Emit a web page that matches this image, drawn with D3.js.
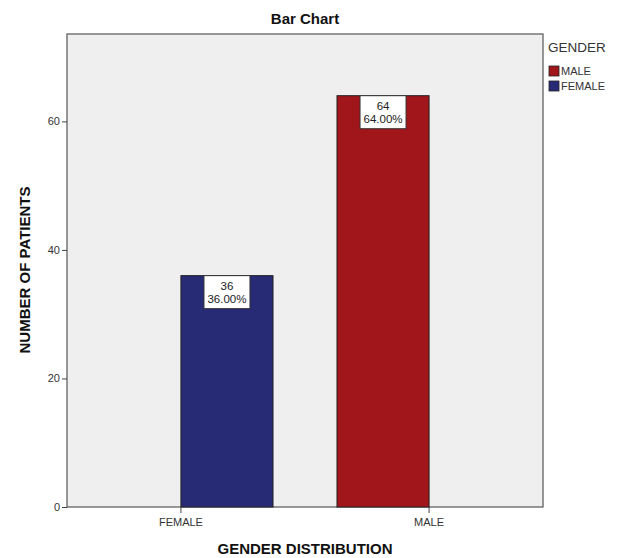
<!DOCTYPE html>
<html><head><meta charset="utf-8">
<script src="https://cdn.jsdelivr.net/npm/d3@7"></script>
<style>body{margin:0;background:#fff}text{font-family:Arial,"Liberation Sans",sans-serif}</style>
</head><body>
<svg id="c" width="625" height="558"></svg>
<script>
const categories = ["FEMALE", "MALE"];
const counts = [36, 64];
const percents = ["36.00%", "64.00%"];
const legendLabels = ["MALE", "FEMALE"];
const colors = {MALE: "#a1161b", FEMALE: "#272a75"};
const yTicks = [0, 20, 40, 60];

const svg = d3.select("#c");
const L = 67, R = 543, T = 34, B = 507;
const y = d3.scaleLinear().domain([0, 73.6]).range([B, T]);
const x = d3.scaleBand().domain(categories).range([L, R]).paddingInner(0.41).paddingOuter(0.73);
const bw = x.bandwidth();

svg.append("rect").attr("x", L).attr("y", T).attr("width", R - L).attr("height", B - T)
  .attr("fill", "#efefef").attr("stroke", "#555").attr("stroke-width", 1.2);

const g = svg.append("g");
categories.forEach((c, i) => {
  g.append("rect").attr("x", x(c)).attr("y", y(counts[i])).attr("width", bw).attr("height", B - y(counts[i]))
    .attr("fill", colors[c]).attr("stroke", "#222").attr("stroke-width", 1);
  const cx = x(c) + bw / 2;
  g.append("rect").attr("x", cx - 23).attr("y", y(counts[i])).attr("width", 46).attr("height", 33)
    .attr("fill", "#fff").attr("stroke", "#333").attr("stroke-width", 1);
  g.append("text").attr("x", cx).attr("y", y(counts[i]) + 14).attr("text-anchor", "middle")
    .attr("font-size", 11.5).attr("fill", "#222").text(counts[i]);
  g.append("text").attr("x", cx).attr("y", y(counts[i]) + 27).attr("text-anchor", "middle")
    .attr("font-size", 11.5).attr("fill", "#222").text(percents[i]);
});

const ya = svg.append("g").attr("transform", `translate(${L},0)`)
  .call(d3.axisLeft(y).tickValues(yTicks).tickSize(5).tickPadding(2));
ya.select(".domain").remove();
ya.selectAll("line").attr("stroke", "#444");
ya.selectAll("text").attr("font-size", 11).attr("fill", "#333").style("font-family", "Arial,'Liberation Sans',sans-serif");

const xTickPos = [x("FEMALE"), x("MALE") + bw];
categories.forEach((c, i) => {
  svg.append("line").attr("x1", xTickPos[i]).attr("x2", xTickPos[i]).attr("y1", B).attr("y2", B + 6).attr("stroke", "#444");
  svg.append("text").attr("x", xTickPos[i]).attr("y", B + 19).attr("text-anchor", "middle")
    .attr("font-size", 11).attr("fill", "#333").text(c);
});

svg.append("text").attr("x", 305).attr("y", 24).attr("text-anchor", "middle")
  .attr("font-size", 15).attr("font-weight", "bold").attr("fill", "#111").text("Bar Chart");
svg.append("text").attr("x", 305).attr("y", 554).attr("text-anchor", "middle")
  .attr("font-size", 15).attr("font-weight", "bold").attr("fill", "#111").text("GENDER DISTRIBUTION");
svg.append("text").attr("transform", "translate(30,270) rotate(-90)").attr("text-anchor", "middle")
  .attr("font-size", 15).attr("font-weight", "bold").attr("fill", "#111").text("NUMBER OF PATIENTS");

svg.append("text").attr("x", 548).attr("y", 52).attr("font-size", 13.5).attr("fill", "#333").text("GENDER");
legendLabels.forEach((c, i) => {
  svg.append("rect").attr("x", 549).attr("y", 66 + i * 15).attr("width", 10).attr("height", 10)
    .attr("fill", colors[c]).attr("stroke", "#222").attr("stroke-width", 0.8);
  svg.append("text").attr("x", 561).attr("y", 75 + i * 15).attr("font-size", 11).attr("fill", "#333").text(c);
});
</script>
</body></html>
